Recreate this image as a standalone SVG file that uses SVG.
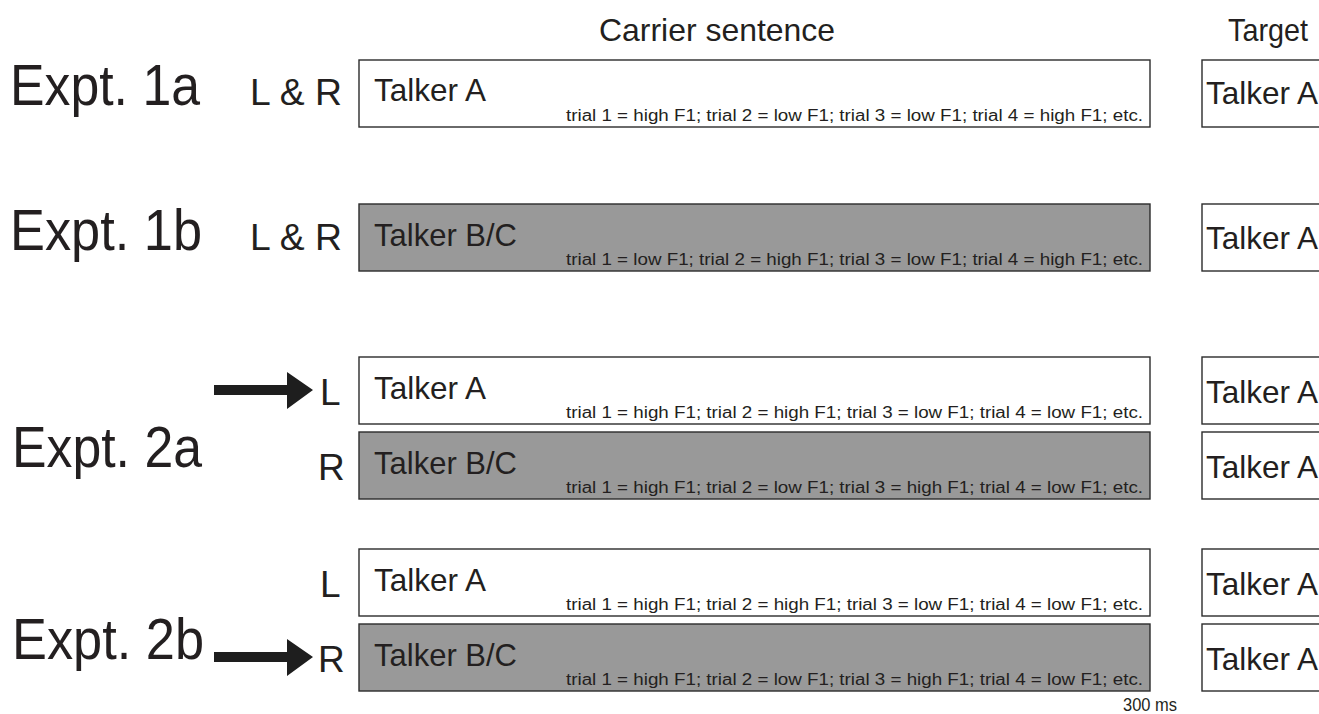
<svg xmlns="http://www.w3.org/2000/svg" width="1319" height="714" viewBox="0 0 1319 714">
<style>
text{font-family:"Liberation Sans",Arial,sans-serif;fill:#231f20}
.big{font-size:58px}
.ch{font-size:37px}
.hd{font-size:32px}
.tk{font-size:32px}
.tr{font-size:16px}
.ms{font-size:18px}
.w{fill:#ffffff;stroke:#2b2b2b;stroke-width:1.4}
.g{fill:#999999;stroke:#2b2b2b;stroke-width:1.4}
.arr{fill:#1e1e1e}
</style>
<rect width="1319" height="714" fill="#ffffff"/>
<g id="headers">
<text class="hd" x="599" y="41" textLength="236" lengthAdjust="spacingAndGlyphs">Carrier sentence</text>
<text class="hd" x="1228" y="41" textLength="80" lengthAdjust="spacingAndGlyphs">Target</text>
</g>
<g id="expt1a">
<text class="big" x="10" y="105" textLength="190" lengthAdjust="spacingAndGlyphs">Expt. 1a</text>
<text class="ch" x="250" y="105" textLength="92" lengthAdjust="spacingAndGlyphs">L &amp; R</text>
<rect class="w" x="359" y="60" width="791" height="67"/>
<text class="tk" x="374" y="101" textLength="112" lengthAdjust="spacingAndGlyphs">Talker A</text>
<text class="tr" x="566" y="121" textLength="577" lengthAdjust="spacingAndGlyphs">trial 1 = high F1; trial 2 = low F1; trial 3 = low F1; trial 4 = high F1; etc.</text>
<rect class="w" x="1202" y="60" width="130" height="67"/>
<text class="tk" x="1206" y="104" textLength="112" lengthAdjust="spacingAndGlyphs">Talker A</text>
</g>
<g id="expt1b">
<text class="big" x="10" y="250" textLength="192" lengthAdjust="spacingAndGlyphs">Expt. 1b</text>
<text class="ch" x="250" y="250" textLength="92" lengthAdjust="spacingAndGlyphs">L &amp; R</text>
<rect class="g" x="359" y="204" width="791" height="67"/>
<text class="tk" x="374" y="246" textLength="143" lengthAdjust="spacingAndGlyphs">Talker B/C</text>
<text class="tr" x="566" y="265" textLength="577" lengthAdjust="spacingAndGlyphs">trial 1 = low F1; trial 2 = high F1; trial 3 = low F1; trial 4 = high F1; etc.</text>
<rect class="w" x="1202" y="204" width="130" height="67"/>
<text class="tk" x="1206" y="249" textLength="112" lengthAdjust="spacingAndGlyphs">Talker A</text>
</g>
<g id="expt2a">
<text class="big" x="12" y="467" textLength="190" lengthAdjust="spacingAndGlyphs">Expt. 2a</text>
<text class="ch" x="320" y="405">L</text>
<rect class="w" x="359" y="357" width="791" height="67"/>
<text class="tk" x="374" y="399" textLength="112" lengthAdjust="spacingAndGlyphs">Talker A</text>
<text class="tr" x="566" y="418" textLength="577" lengthAdjust="spacingAndGlyphs">trial 1 = high F1; trial 2 = high F1; trial 3 = low F1; trial 4 = low F1; etc.</text>
<rect class="w" x="1202" y="357" width="130" height="67"/>
<text class="tk" x="1206" y="403" textLength="112" lengthAdjust="spacingAndGlyphs">Talker A</text>
<text class="ch" x="318" y="480">R</text>
<rect class="g" x="359" y="432" width="791" height="67"/>
<text class="tk" x="374" y="474" textLength="143" lengthAdjust="spacingAndGlyphs">Talker B/C</text>
<text class="tr" x="566" y="493" textLength="577" lengthAdjust="spacingAndGlyphs">trial 1 = high F1; trial 2 = low F1; trial 3 = high F1; trial 4 = low F1; etc.</text>
<rect class="w" x="1202" y="432" width="130" height="67"/>
<text class="tk" x="1206" y="478" textLength="112" lengthAdjust="spacingAndGlyphs">Talker A</text>
</g>
<g id="expt2b">
<text class="big" x="12" y="659" textLength="192" lengthAdjust="spacingAndGlyphs">Expt. 2b</text>
<text class="ch" x="320" y="597">L</text>
<rect class="w" x="359" y="549" width="791" height="67"/>
<text class="tk" x="374" y="591" textLength="112" lengthAdjust="spacingAndGlyphs">Talker A</text>
<text class="tr" x="566" y="610" textLength="577" lengthAdjust="spacingAndGlyphs">trial 1 = high F1; trial 2 = high F1; trial 3 = low F1; trial 4 = low F1; etc.</text>
<rect class="w" x="1202" y="549" width="130" height="67"/>
<text class="tk" x="1206" y="595" textLength="112" lengthAdjust="spacingAndGlyphs">Talker A</text>
<text class="ch" x="318" y="672">R</text>
<rect class="g" x="359" y="624" width="791" height="67"/>
<text class="tk" x="374" y="666" textLength="143" lengthAdjust="spacingAndGlyphs">Talker B/C</text>
<text class="tr" x="566" y="685" textLength="577" lengthAdjust="spacingAndGlyphs">trial 1 = high F1; trial 2 = low F1; trial 3 = high F1; trial 4 = low F1; etc.</text>
<rect class="w" x="1202" y="624" width="130" height="67"/>
<text class="tk" x="1206" y="670" textLength="112" lengthAdjust="spacingAndGlyphs">Talker A</text>
</g>
<g id="timing">
<text class="ms" x="1123" y="711" textLength="54" lengthAdjust="spacingAndGlyphs">300 ms</text>
</g>
<g id="connectors">
<path class="arr" d="M214,385 H287 V372 L313,390 L287,409 V395 H214 Z"/>
<path class="arr" d="M214,652 H287 V639 L313,657 L287,676 V662 H214 Z"/>
</g>
</svg>
